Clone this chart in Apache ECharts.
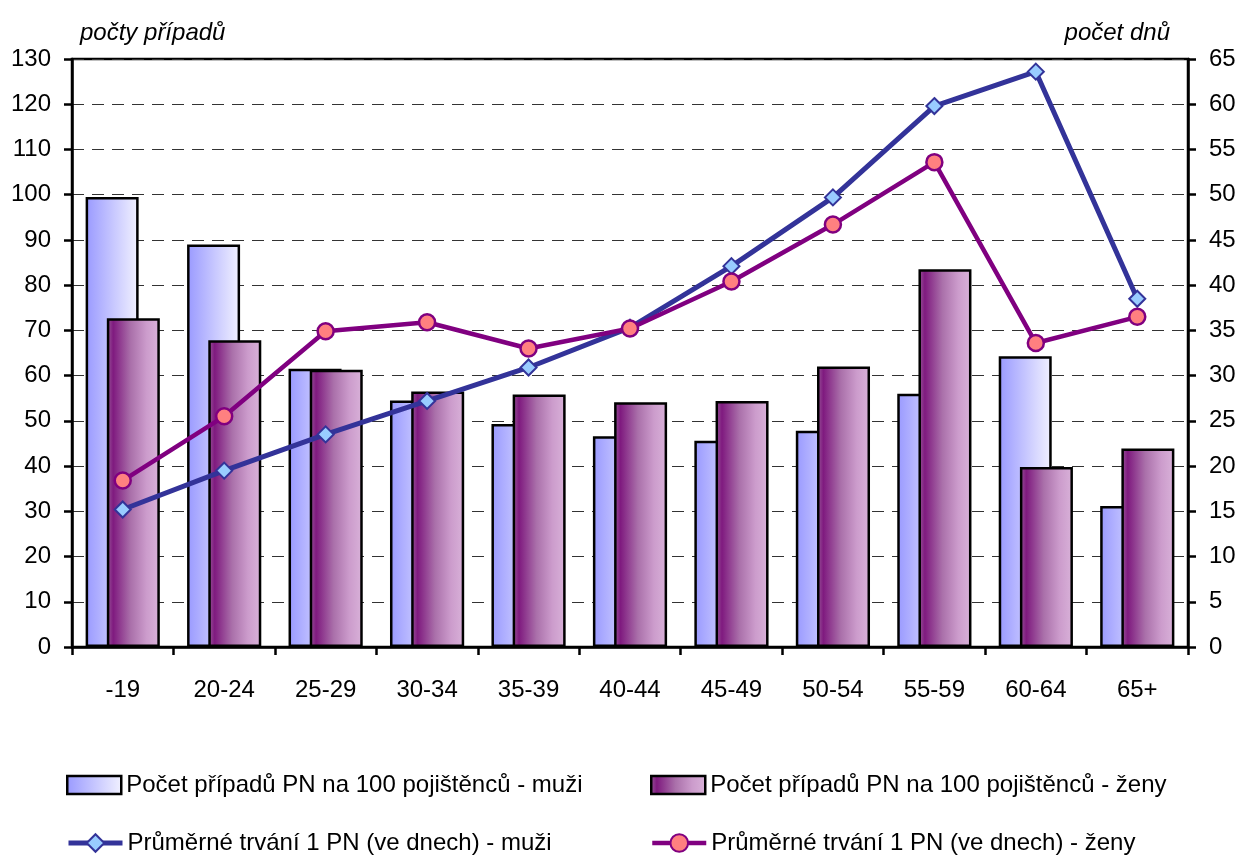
<!DOCTYPE html>
<html><head><meta charset="utf-8">
<script src="https://cdn.jsdelivr.net/npm/echarts@6/dist/echarts.min.js"></script>
<style>html,body{margin:0;padding:0;background:#fff}#c{width:1239px;height:861px}</style>
</head><body><div id="c"></div>
<script>
const categories = ['-19','20-24','25-29','30-34','35-39','40-44','45-49','50-54','55-59','60-64','65+'];
const casesMen = [99.5, 89.0, 61.5, 54.5, 49.3, 46.6, 45.6, 47.8, 56.0, 64.3, 31.2];
const casesWomen = [72.7, 67.8, 61.3, 56.5, 55.8, 54.1, 54.4, 62.0, 83.5, 39.8, 43.9];
const durMen = [15.2, 19.5, 23.5, 27.2, 30.9, 35.3, 42.1, 49.7, 59.8, 63.6, 38.5];
const durWomen = [18.4, 25.5, 34.9, 35.9, 33.0, 35.2, 40.4, 46.7, 53.6, 33.6, 36.5];
const leftTicks = {min: 0, max: 130, interval: 10};
const rightTicks = {min: 0, max: 65, interval: 5};
const names = ['Počet případů PN na 100 pojištěnců - muži','Počet případů PN na 100 pojištěnců - ženy','Průměrné trvání 1 PN (ve dnech) - muži','Průměrné trvání 1 PN (ve dnech) - ženy'];

const FONT = '"Liberation Sans", Arial, sans-serif';
const chart = echarts.init(document.getElementById('c'), null, {renderer: 'canvas'});
const menGrad = new echarts.graphic.LinearGradient(0,0,1,0,[{offset:0,color:'#9999ff'},{offset:1,color:'#f2f2ff'}]);
const womenGrad = new echarts.graphic.LinearGradient(0,0,1,0,[{offset:0,color:'#9a5a9a'},{offset:0.12,color:'#7f1a7f'},{offset:0.45,color:'#aa70aa'},{offset:0.75,color:'#cc9ccc'},{offset:1,color:'#d9b2d9'}]);
const txt = {color:'#000', fontFamily: FONT, fontSize: 24};
function leg(name, left, top, extra){
  return Object.assign({data:[name], left:left, top:top, itemWidth:54, itemHeight:18, itemGap:6,
    textStyle:{...txt, fontSize:24}, selectedMode:false}, extra||{});
}
chart.setOption({
  animation:false,
  backgroundColor:'#fff',
  grid:{left:72, right:51, top:59, bottom:214, show:true, borderColor:'#000', borderWidth:2.5},
  legend:[
    leg(names[0],61,768,{icon:'rect', itemStyle:{borderWidth:2.5}}),
    leg(names[1],645,768,{icon:'rect', itemStyle:{borderWidth:2.5}}),
    leg(names[2],61,826,{lineStyle:{width:5}, itemHeight:22}),
    leg(names[3],645,826,{lineStyle:{width:4.5}, itemHeight:22})
  ],
  xAxis:{type:'category', data:categories, boundaryGap:true,
    axisLine:{lineStyle:{color:'#000', width:2.5}},
    axisTick:{show:true, length:8, lineStyle:{color:'#000', width:2.5}, alignWithLabel:false},
    axisLabel:{...txt, margin:31}},
  yAxis:[
    {type:'value', ...leftTicks, position:'left',
     name:'počty případů', nameLocation:'end', nameGap:14,
     nameTextStyle:{...txt, fontStyle:'italic', align:'left', padding:[0,0,0,8]},
     axisLine:{show:true, lineStyle:{color:'#000', width:2.5}},
     axisTick:{show:true, length:8, lineStyle:{color:'#000', width:2.5}},
     axisLabel:{...txt, margin:21},
     splitLine:{show:true, lineStyle:{color:'#333', type:[12,8], width:1}}},
    {type:'value', ...rightTicks, position:'right',
     name:'počet dnů', nameLocation:'end', nameGap:14,
     nameTextStyle:{...txt, fontStyle:'italic', align:'right', padding:[0,18,0,0]},
     axisLine:{show:true, lineStyle:{color:'#000', width:2.5}},
     axisTick:{show:true, length:8, lineStyle:{color:'#000', width:2.5}},
     axisLabel:{...txt, margin:21},
     splitLine:{show:false}}
  ],
  series:[
    {name:names[0], type:'bar', data:casesMen, barWidth:53, barGap:'-60%', yAxisIndex:0,
     itemStyle:{color:menGrad, borderColor:'#000', borderWidth:2.5}},
    {name:names[1], type:'bar', data:casesWomen, barWidth:53, yAxisIndex:0,
     itemStyle:{color:womenGrad, borderColor:'#000', borderWidth:2.5}},
    {name:names[2], type:'line', data:durMen, yAxisIndex:1, symbol:'diamond', symbolSize:16,
     lineStyle:{color:'#333399', width:5}, itemStyle:{color:'#99ccff', borderColor:'#333399', borderWidth:2}},
    {name:names[3], type:'line', data:durWomen, yAxisIndex:1, symbol:'circle', symbolSize:16,
     lineStyle:{color:'#800080', width:4.5}, itemStyle:{color:'#ff8080', borderColor:'#800080', borderWidth:2.5}}
  ]
});
</script></body></html>
